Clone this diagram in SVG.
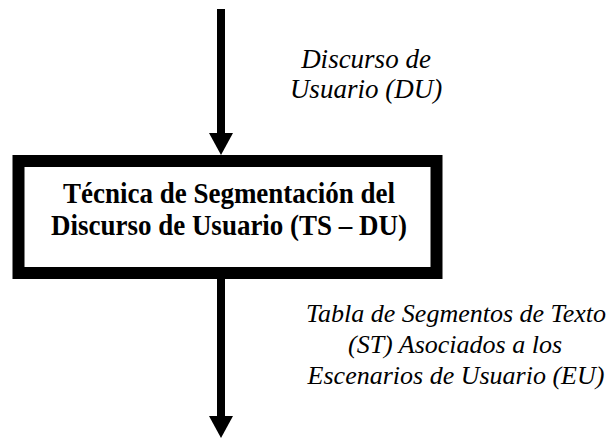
<svg xmlns="http://www.w3.org/2000/svg" width="613" height="439" viewBox="0 0 613 439">
<style>
.lbl{font-family:"Liberation Serif","Times New Roman",serif;font-style:italic;font-size:27px;fill:#000;text-anchor:middle}
.lbl2{font-family:"Liberation Serif","Times New Roman",serif;font-style:italic;font-size:26px;fill:#000;text-anchor:middle}
.title{font-family:"Liberation Serif","Times New Roman",serif;font-weight:bold;font-size:27px;fill:#000;text-anchor:middle}
.shaft{stroke:#000;stroke-width:8;fill:none}
</style>
<defs>
<marker id="head" markerUnits="userSpaceOnUse" markerWidth="22" markerHeight="24" refX="0" refY="12" orient="auto" viewBox="0 0 22 24">
<path d="M0,0 L22,12 L0,24 Z" fill="#000"/>
</marker>
</defs>
<rect width="613" height="439" fill="#fff"/>
<g id="connectors">
<line class="shaft" x1="221" y1="9" x2="221" y2="133" marker-end="url(#head)"/>
<line class="shaft" x1="221" y1="279" x2="221" y2="416" marker-end="url(#head)"/>
</g>
<g id="label-du">
<text class="lbl" x="366" y="68">Discurso de</text>
<text class="lbl" x="366" y="98">Usuario (DU)</text>
</g>
<g id="node-tsdu">
<rect x="18.5" y="161" width="418" height="112" fill="#fff" stroke="#000" stroke-width="12"/>
<text class="title" transform="translate(229,203) scale(1,1.08)">Técnica de Segmentación del</text>
<text class="title" transform="translate(229,235) scale(1,1.08)">Discurso de Usuario (TS – DU)</text>
</g>
<g id="label-st">
<text class="lbl2" x="456" y="322">Tabla de Segmentos de Texto</text>
<text class="lbl2" x="455" y="353">(ST) Asociados a los</text>
<text class="lbl2" x="456" y="384">Escenarios de Usuario (EU)</text>
</g>
</svg>
